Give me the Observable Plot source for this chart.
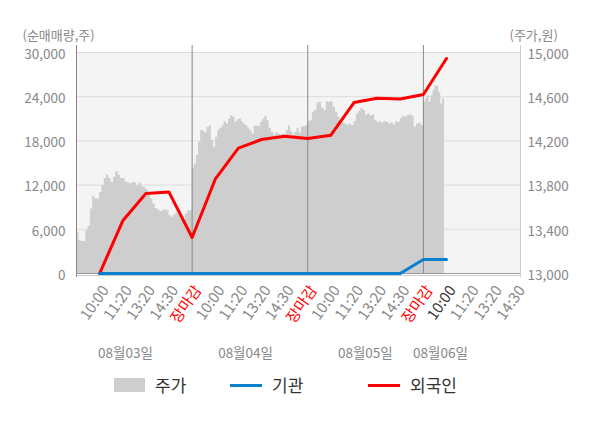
<!DOCTYPE html>
<html><head><meta charset="utf-8">
<script src="https://cdn.jsdelivr.net/npm/d3@7"></script>
<script src="https://cdn.jsdelivr.net/npm/@observablehq/plot@0.6"></script>
<style>
body{margin:0;background:#fff;font-family:"Noto Sans CJK KR","Noto Sans",sans-serif;}
#wrap{position:relative;width:600px;height:428px;overflow:hidden;}
#legend{position:absolute;left:0;top:0;width:600px;height:428px;pointer-events:none;}
.sw{position:absolute;}
.lt{position:absolute;font-size:17px;color:#333;line-height:20px;top:375px;}
</style></head><body><div id="wrap"><div id="chart"></div><div id="legend"></div></div>
<script>
// ---- data ----
const days = ["08월03일", "08월04일", "08월05일", "08월06일"];
const tickLabels = ["10:00", "11:20", "13:20", "14:30", "장마감"];
const leftTicks = [0, 6000, 12000, 18000, 24000, 30000];
const priceMin = 13000, priceMax = 15000;
// net buying (shares) at 10:00, 11:20, 13:20, 14:30, close of each day
const foreign = [0, 7150, 10860, 11050, 4890, 12800, 17010, 18190, 18640, 18320, 18780, 23200, 23800, 23700, 24290, 29180];
const institution = [0, 0, 0, 0, 0, 0, 0, 0, 0, 0, 0, 0, 0, 0, 1900, 1900];
// intraday price (won)
const priceDay1 = [13373, 13300, 13290, 13290, 13388, 13427, 13583, 13698, 13674, 13674, 13734, 13794, 13860, 13890, 13860, 13824, 13869, 13920, 13890, 13860, 13860, 13830, 13818, 13809, 13824, 13818, 13794, 13818, 13788, 13779, 13758, 13734, 13674, 13628, 13589, 13577, 13559, 13568, 13577, 13568, 13523, 13508, 13529, 13547, 13523, 13493, 13478, 13538, 13568, 13568];
const priceDay2 = [13953, 13992, 14068, 14188, 14293, 14287, 14272, 14323, 14338, 14203, 14143, 14233, 14293, 14314, 14338, 14374, 14353, 14398, 14428, 14413, 14368, 14392, 14398, 14374, 14353, 14338, 14314, 14293, 14263, 14332, 14332, 14332, 14368, 14398, 14423, 14383, 14314, 14278, 14254, 14272, 14263, 14254, 14263, 14254, 14293, 14332, 14284, 14254, 14278, 14314, 14272, 14323, 14332, 14338];
const priceDay3 = [14374, 14383, 14459, 14474, 14543, 14549, 14495, 14474, 14555, 14549, 14555, 14504, 14459, 14414, 14374, 14362, 14353, 14344, 14353, 14338, 14374, 14444, 14465, 14495, 14474, 14435, 14444, 14428, 14435, 14383, 14368, 14374, 14362, 14374, 14368, 14353, 14362, 14344, 14374, 14368, 14405, 14423, 14414, 14428, 14435, 14423, 14323, 14353, 14362, 14338];
const priceDay4 = [14549, 14579, 14609, 14549, 14609, 14654, 14700, 14693, 14639, 14534, 14579, 14594];

// ---- derived ----
const slots = tickLabels.length; // slots per day
const toY = p => (p - priceMin) * (leftTicks[leftTicks.length - 1] / (priceMax - priceMin));
const priceDays = [priceDay1, priceDay2, priceDay3, priceDay4];
const price = [];
priceDays.forEach((arr, d) => {
  const span = d < 3 ? slots : 1; // last day: data through 10:00
  arr.forEach((p, i) => price.push({x: d * slots + span * i / arr.length, y: toY(p)}));
});
const fData = foreign.map((v, i) => ({x: i + 1, y: v}));
const iData = institution.map((v, i) => ({x: i + 1, y: v}));
const nTicks = 19;
const ticks = d3.range(1, nTicks + 1).map(t => ({x: t, label: tickLabels[(t - 1) % slots], cur: t === foreign.length}));
const xMax = 19.2;
const dateX = [2.12, 7.31, 12.49, 15.74];
const dateData = days.map((d, i) => ({x: dateX[i], label: d}));
const fmt = d3.format(",");

const tickOpts = {x: "x", text: "label", frameAnchor: "bottom", rotate: -55, textAnchor: "end", lineAnchor: "middle", dx: 6, dy: 14, fontSize: 15};

const chart = Plot.plot({
  width: 600, height: 400,
  marginLeft: 76, marginRight: 80, marginTop: 52, marginBottom: 127,
  style: {fontFamily: '"Noto Sans CJK KR","Noto Sans",sans-serif', fontSize: "13.5px", background: "transparent", overflow: "visible"},
  x: {domain: [0, xMax], axis: null},
  y: {domain: [0, 30000], axis: null},
  marks: [
    Plot.frame({fill: "#f4f4f4", stroke: null}),
    Plot.ruleY(leftTicks.slice(1), {stroke: "#dcdcdc", strokeWidth: 1}),
    Plot.areaY(price, {x: "x", y: "y", fill: "#cecece", curve: "step-after"}),
    Plot.ruleY([0], {stroke: "#999", strokeWidth: 1}),
    Plot.ruleY([0], {stroke: "#ccc", strokeWidth: 1, dy: 2}),
    Plot.ruleX([0, 5, 10, 15], {stroke: "#888", insetTop: -7, insetBottom: 0}),
    Plot.ruleX([0], {stroke: "#888", insetTop: -7, insetBottom: -4}),
    Plot.ruleX([xMax], {stroke: "#ccc", insetTop: -7, insetBottom: -4}),
    Plot.line(fData, {x: "x", y: "y", stroke: "#ff0000", strokeWidth: 3}),
    Plot.line(iData, {x: "x", y: "y", stroke: "#0a7fd0", strokeWidth: 3}),
    Plot.axisY({anchor: "left", ticks: leftTicks, tickFormat: fmt, tickSize: 0, tickPadding: 11, color: "#888", label: null, fontSize: 13.5, dy: 2}),
    Plot.axisY({anchor: "right", ticks: leftTicks, tickFormat: v => fmt(priceMin + v * (priceMax - priceMin) / 30000), tickSize: 0, tickPadding: 7, color: "#888", label: null, fontSize: 13.5, dy: 2}),
    Plot.text(["(순매매량,주)"], {frameAnchor: "top-left", dx: -54, dy: -22, textAnchor: "start", fill: "#888", fontSize: 13}),
    Plot.text(["(주가,원)"], {frameAnchor: "top-right", dx: -11, dy: -22, textAnchor: "start", fill: "#888", fontSize: 13}),
    Plot.text(ticks.filter(t => t.label !== "장마감" && !t.cur), {...tickOpts, fill: "#888"}),
    Plot.text(ticks.filter(t => t.label === "장마감"), {...tickOpts, fill: "#ff0000"}),
    Plot.text(ticks.filter(t => t.cur), {...tickOpts, fill: "#333"}),
    Plot.text(dateData, {x: "x", text: "label", frameAnchor: "bottom", dy: 80, lineAnchor: "middle", fill: "#888", fontSize: 13.5})
  ]
});
document.getElementById("chart").appendChild(chart);

// ---- legend ----
const legendItems = [
  {name: "주가", kind: "box", color: "#cecece"},
  {name: "기관", kind: "line", color: "#0a7fd0"},
  {name: "외국인", kind: "line", color: "#ff0000"}
];
const legendLeft = [114, 230, 368];
const leg = document.getElementById("legend");
legendItems.forEach((it, i) => {
  const s = document.createElement("div");
  s.className = "sw";
  s.style.left = legendLeft[i] + "px";
  s.style.width = (it.kind === "box" ? 31 : 32) + "px";
  s.style.height = (it.kind === "box" ? 14 : 3) + "px";
  s.style.top = (it.kind === "box" ? 378 : 384) + "px";
  s.style.background = it.color;
  leg.appendChild(s);
  const t = document.createElement("div");
  t.className = "lt";
  t.style.left = (legendLeft[i] + (it.kind === "box" ? 41 : 42)) + "px";
  t.textContent = it.name;
  leg.appendChild(t);
});
</script></body></html>
